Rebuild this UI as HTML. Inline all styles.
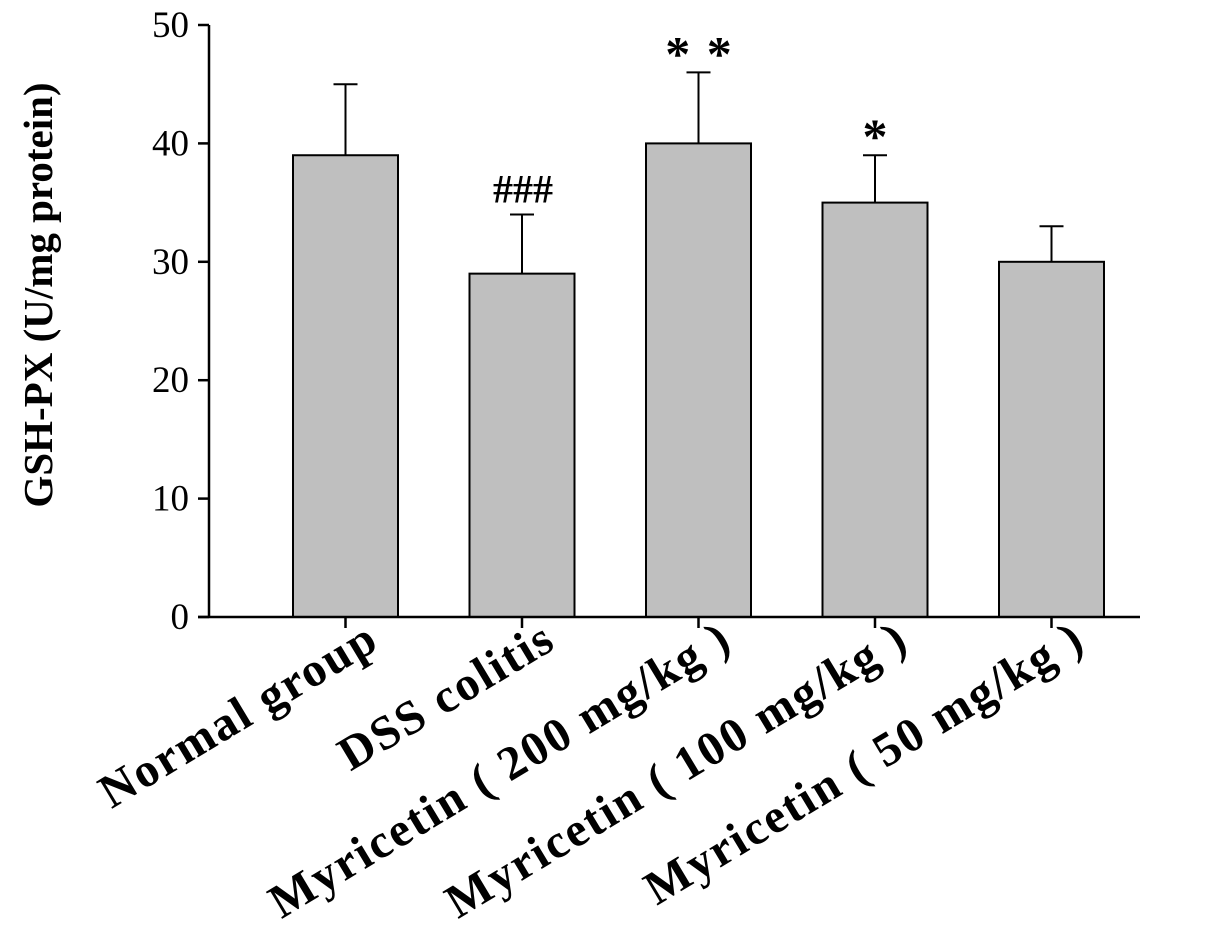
<!DOCTYPE html>
<html><head><meta charset="utf-8"><style>
html,body{margin:0;padding:0;background:#fff;}
svg{display:block;font-family:"Liberation Serif",serif;}
</style></head><body>
<svg id="chart" width="1205" height="927" viewBox="0 0 1205 927"></svg>
<script>
const categories=["Normal group","DSS colitis","Myricetin ( 200 mg/kg )","Myricetin ( 100 mg/kg )","Myricetin ( 50 mg/kg )"];
const values=[39,29,40,35,30];
const errors=[6,5,6,4,3];
const marks=["","###","* *","*",""];
const yTicks=[0,10,20,30,40,50];
const NS="http://www.w3.org/2000/svg";
const svg=document.getElementById('chart');
const x0=209,xEnd=1140,y0=617,yTop=25,ymax=50;
const y=v=>y0-(v/ymax)*(y0-yTop);
const slot=176.5,first=345.5,bw=105;
const cx=i=>first+i*slot;
function el(t,a,p){const e=document.createElementNS(NS,t);for(const k in a)e.setAttribute(k,a[k]);(p||svg).appendChild(e);return e;}
categories.forEach((c,i)=>{
 const g=el('g',{});
 
 
 const top=y(values[i]);
 const eb=el('line',{x1:cx(i),x2:cx(i),y1:y(values[i]+errors[i]),y2:top,stroke:'#000','stroke-width':2},g);
 
 
 const cap=el('line',{x1:cx(i)-12,x2:cx(i)+12,y1:y(values[i]+errors[i]),y2:y(values[i]+errors[i]),stroke:'#000','stroke-width':2},g);
 
 
 const r=el('rect',{x:cx(i)-bw/2,y:top,width:bw,height:y0-top,fill:'#bfbfbf',stroke:'#000','stroke-width':2},g);
 
 
 if(marks[i]){const big=marks[i]!=='###';const m=el('text',{x:cx(i)+1,y:y(values[i]+errors[i])+(big?-2:-12),'text-anchor':'middle','font-size':big?50:40,'font-weight':'bold','letter-spacing':big?2:0},g);m.textContent=marks[i];
 
 }
 const tk=el('line',{x1:cx(i),x2:cx(i),y1:y0,y2:y0+11,stroke:'#000','stroke-width':2.5},g);
 
 
 const lx=cx(i)+36,ly=y0+30;
 const t=el('text',{x:lx,y:ly,'text-anchor':'end','font-size':48,'font-weight':'bold','letter-spacing':2,transform:`rotate(-31 ${lx} ${ly})`},g);
 t.textContent=c;
 
 
});
yTicks.forEach(v=>{
 const tk=el('line',{x1:x0-11,x2:x0,y1:y(v),y2:y(v),stroke:'#000','stroke-width':2.5});
 
 
 const t=el('text',{x:x0-20,y:y(v)+12,'text-anchor':'end','font-size':37});
 t.textContent=v;
 
 
});
const ya=el('line',{x1:x0,x2:x0,y1:yTop,y2:y0+1,stroke:'#000','stroke-width':2.5});


const xa=el('line',{x1:x0-11,x2:xEnd,y1:y0,y2:y0,stroke:'#000','stroke-width':2.5});


const yt=el('text',{x:52,y:295,'text-anchor':'middle','font-size':41,'font-weight':'bold',transform:'rotate(-90 52 295)'});
yt.textContent='GSH-PX (U/mg protein)';


</script>
</body></html>
